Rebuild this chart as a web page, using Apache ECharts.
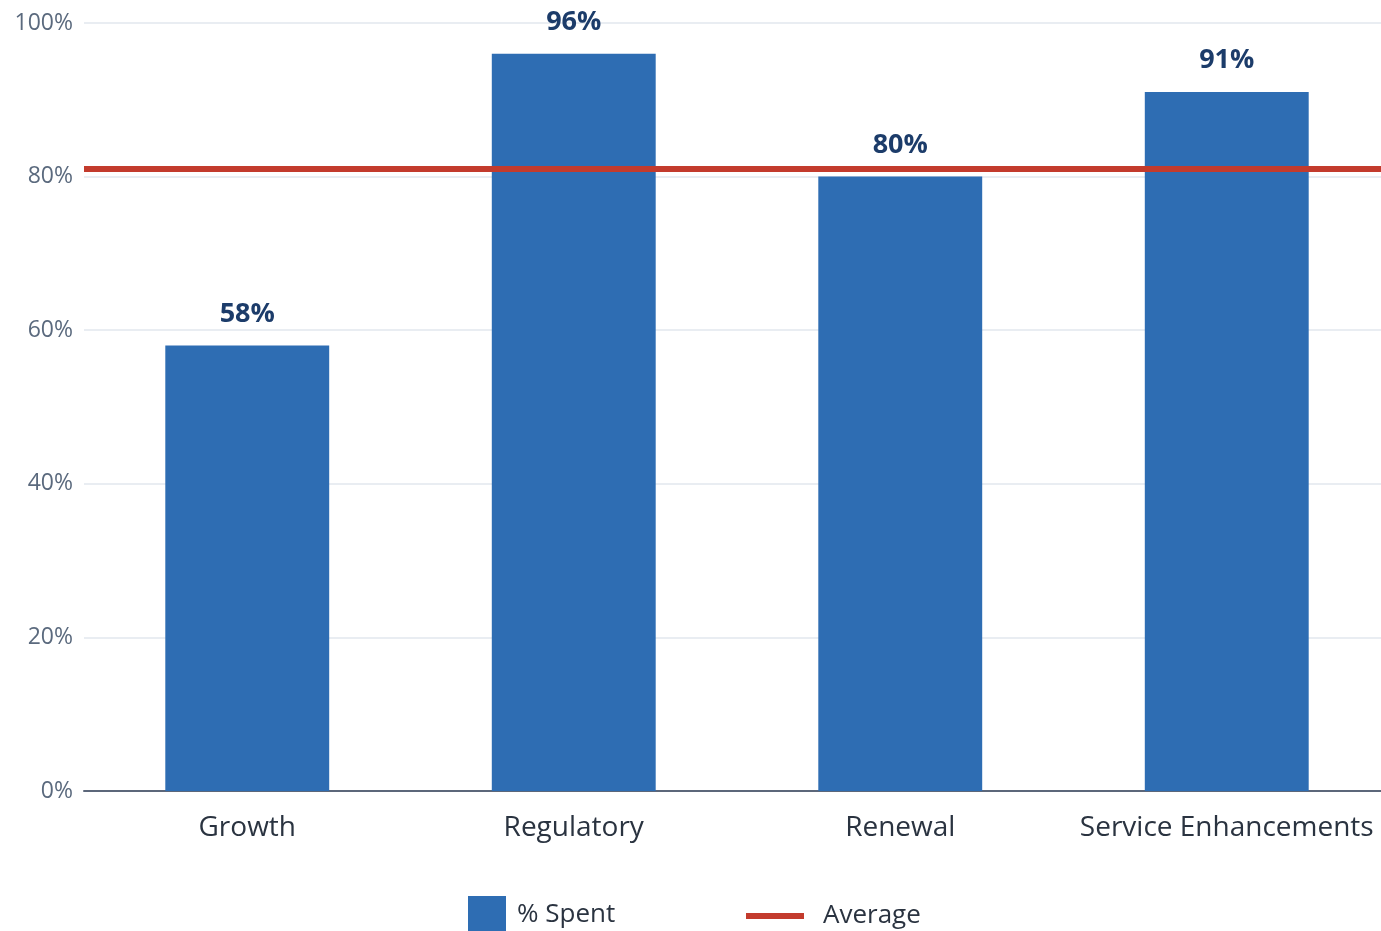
<!DOCTYPE html>
<html><head><meta charset="utf-8">
<script src="https://cdn.jsdelivr.net/npm/echarts@6/dist/echarts.min.js"></script>
<style>html,body{margin:0;padding:0;background:#fff}#c{width:1381px;height:931px}</style>
</head><body><div id="c"></div>
<script>
const categories = ['Growth', 'Regulatory', 'Renewal', 'Service Enhancements'];
const spent = [58, 96, 80, 91];
const averageValue = 81;
const yTicks = [0, 20, 40, 60, 80, 100];

const font = '"Open Sans", "Noto Sans", sans-serif';
const chart = echarts.init(document.getElementById('c'));
chart.setOption({
  animation: false,
  textStyle: { fontFamily: font },
  grid: { left: 84, width: 1306, top: 23, bottom: 140, containLabel: false, outerBoundsMode: 'none' },
  legend: [
    { data: ['% Spent'], left: 468, top: 896, padding: 0, itemWidth: 38, itemHeight: 38,
      icon: 'rect', textStyle: { fontFamily: font, fontSize: 26, color: '#2a3340', padding: [6,0,0,6] } },
    { data: ['Average'], left: 746, top: 903, padding: 0, itemWidth: 58, itemHeight: 6,
      icon: 'rect', textStyle: { fontFamily: font, fontSize: 26, color: '#2a3340', padding: [0,0,0,14] } }
  ],
  xAxis: {
    type: 'category', data: categories,
    axisLine: { lineStyle: { color: '#5c677a', width: 2 } },
    axisTick: { show: false },
    axisLabel: { interval: 0, fontFamily: font, fontSize: 28, color: '#2a3340', margin: 23 }
  },
  yAxis: {
    type: 'value', min: 0, max: 100, interval: 20,
    axisLabel: { fontFamily: font, fontSize: 23, color: '#5b6a7e', margin: 11, padding: [5,0,0,0],
      formatter: v => yTicks.includes(v) ? v + '%' : '' },
    splitLine: { lineStyle: { color: '#e9edf2', width: 2 } },
    axisLine: { show: false }, axisTick: { show: false }
  },
  series: [
    { name: '% Spent', type: 'bar', data: spent, barWidth: '50.2%',
      itemStyle: { color: '#2e6db3' },
      label: { show: true, position: 'top', distance: 18, formatter: '{c}%',
        fontFamily: font, fontSize: 27, fontWeight: 'bold', color: '#1c3c6a' } },
    { name: 'Average', type: 'line', data: [], itemStyle: { color: '#c33b2d' },
      lineStyle: { color: '#c33b2d', width: 6 }, z: 5,
      markLine: { silent: true, symbol: 'none', label: { show: false },
        lineStyle: { color: '#c33b2d', width: 6, type: 'solid' },
        data: [{ yAxis: averageValue }] } }
  ]
});
</script></body></html>
